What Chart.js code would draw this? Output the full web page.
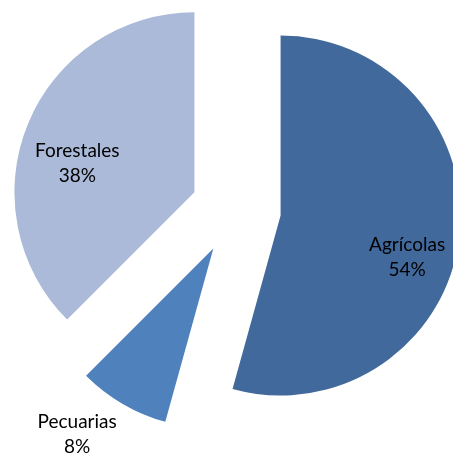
<!DOCTYPE html>
<html>
<head>
<meta charset="utf-8">
<script src="https://cdn.jsdelivr.net/npm/chart.js@4"></script>
<style>
    html, body { margin: 0; padding: 0; background: #fff; }
    #wrap { width: 453px; height: 461px; }
</style>
</head>
<body>
<div id="wrap"><canvas id="pieChart" width="453" height="461"></canvas></div>
<script>
// Data
const labels = ['Agrícolas', 'Pecuarias', 'Forestales'];
const values = [54.3, 8.2, 37.5];
const colors = ['#41699b', '#4f81bd', '#abbad8'];

// Label placement: [radius factor, angle shift in degrees] from the slice apex
const labelPlacement = [[0.74, 10.5], [1.28, 6], [0.67, -8.6]];

// Layout
const RADIUS = 180;
const EXPLODE = 45; // pixels each slice is pulled out

const total = values.reduce((s, v) => s + v, 0);

// Draw each arc pulled out along its mid angle (built-in offset also grows the radius)
const explodedArcs = {
    id: 'explodedArcs',
    beforeDatasetDraw(chart, args) {
        const ctx = chart.ctx;
        args.meta.data.forEach(arc => {
            const mid = (arc.startAngle + arc.endAngle) / 2;
            ctx.save();
            ctx.translate(Math.cos(mid) * EXPLODE, Math.sin(mid) * EXPLODE);
            arc.draw(ctx);
            ctx.restore();
        });
        return false;
    }
};

const sliceLabels = {
    id: 'sliceLabels',
    afterDatasetsDraw(chart) {
        const ctx = chart.ctx;
        const meta = chart.getDatasetMeta(0);
        ctx.save();
        ctx.font = '19px Lato';
        ctx.fillStyle = '#000';
        ctx.textAlign = 'center';
        ctx.textBaseline = 'middle';
        meta.data.forEach((arc, i) => {
            const mid = (arc.startAngle + arc.endAngle) / 2;
            const cx = arc.x + Math.cos(mid) * EXPLODE;
            const cy = arc.y + Math.sin(mid) * EXPLODE;
            const [k, dDeg] = labelPlacement[i];
            const a = mid + dDeg * Math.PI / 180;
            const x = cx + Math.cos(a) * arc.outerRadius * k;
            const y = cy + Math.sin(a) * arc.outerRadius * k;
            const pct = Math.round(values[i] / total * 100) + '%';
            ctx.fillText(labels[i], x, y - 12);
            ctx.fillText(pct, x, y + 13);
        });
        ctx.restore();
    }
};

new Chart(document.getElementById('pieChart').getContext('2d'), {
    type: 'pie',
    data: {
        labels: labels,
        datasets: [{
            data: values,
            backgroundColor: colors,
            borderWidth: 0,
            clip: false
        }]
    },
    options: {
        responsive: false,
        animation: false,
        radius: RADIUS,
        layout: { padding: { left: 19, right: 0, top: 0, bottom: 42 } },
        plugins: {
            legend: { display: false },
            tooltip: { enabled: false }
        }
    },
    plugins: [explodedArcs, sliceLabels]
});
</script>
</body>
</html>
